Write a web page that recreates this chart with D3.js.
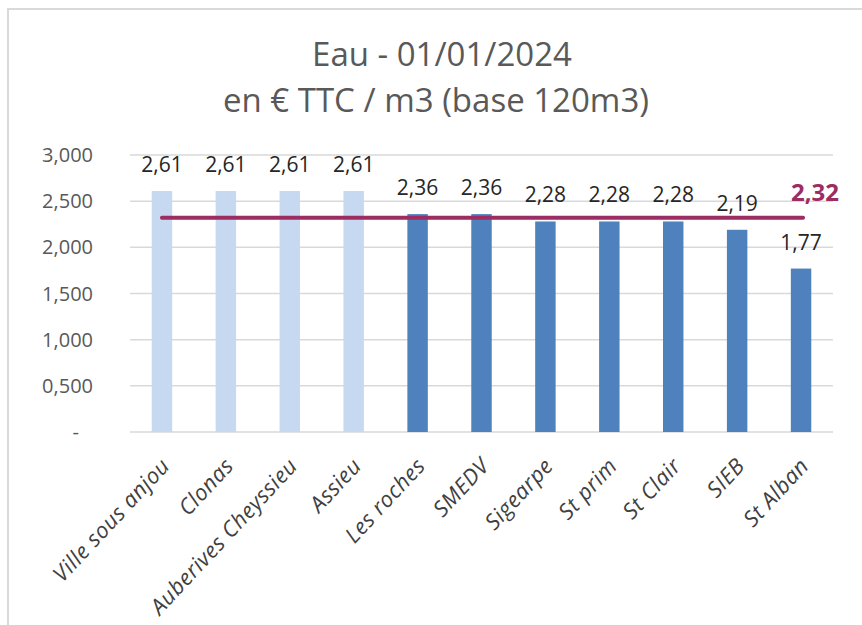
<!DOCTYPE html>
<html>
<head>
<meta charset="utf-8">
<script src="https://cdn.jsdelivr.net/npm/d3@7"></script>
<style>
  body { margin: 0; background: #fff; }
  svg { display: block; font-family: 'Open Sans', sans-serif; }
</style>
</head>
<body>
<div id="chart"></div>
<script>
const categories = ['Ville sous anjou', 'Clonas', 'Auberives Cheyssieu', 'Assieu', 'Les roches',
  'SMEDV', 'Sigearpe', 'St prim', 'St Clair', 'SIEB', 'St Alban'];
const values = [2.61, 2.61, 2.61, 2.61, 2.36, 2.36, 2.28, 2.28, 2.28, 2.19, 1.77];
const lightBars = [true, true, true, true, false, false, false, false, false, false, false];
const average = 2.32;
const yTicks = [0, 0.5, 1, 1.5, 2, 2.5, 3];

const W = 862, H = 625;
const plot = { left: 130, right: 833, top: 155, bottom: 432 };

const svg = d3.select('#chart').append('svg').attr('width', W).attr('height', H);

// chart frame
svg.append('rect')
  .attr('x', 8).attr('y', 9).attr('width', 900).attr('height', 700)
  .attr('fill', 'none').attr('stroke', '#d9d9d9').attr('stroke-width', 2);

const x = d3.scaleBand()
  .domain(categories)
  .range([plot.left, plot.right])
  .paddingInner(0.68)
  .paddingOuter(0.34);

const y = d3.scaleLinear().domain([0, 3]).range([plot.bottom, plot.top]);

const fmtTick = (v) => v === 0 ? '-' : d3.format('.3f')(v).replace('.', ',');
const fmtVal = (v) => d3.format('.2f')(v).replace('.', ',');

// gridlines
svg.append('g')
  .selectAll('line')
  .data(yTicks)
  .join('line')
  .attr('x1', plot.left).attr('x2', plot.right)
  .attr('y1', (d) => y(d)).attr('y2', (d) => y(d))
  .attr('stroke', '#d9d9d9')
  .attr('stroke-width', 1.5);

// y tick labels
svg.append('g')
  .selectAll('text')
  .data(yTicks)
  .join('text')
  .attr('x', (d) => d === 0 ? 79 : 93)
  .attr('y', (d) => y(d))
  .attr('dy', '0.35em')
  .attr('text-anchor', 'end')
  .style('font-size', '20px')
  .style('fill', '#595959')
  .text(fmtTick);

// bars
svg.append('g')
  .selectAll('rect')
  .data(categories)
  .join('rect')
  .attr('x', (d) => x(d))
  .attr('y', (d, i) => y(values[i]))
  .attr('width', x.bandwidth())
  .attr('height', (d, i) => y(0) - y(values[i]))
  .attr('fill', (d, i) => lightBars[i] ? '#c6d9f1' : '#4f81bd');

// value labels
svg.append('g')
  .selectAll('text')
  .data(categories)
  .join('text')
  .attr('x', (d) => x(d) + x.bandwidth() / 2)
  .attr('y', (d, i) => y(values[i]) - 19)
  .attr('text-anchor', 'middle')
  .style('font-size', '21px')
  .style('fill', '#262626')
  .text((d, i) => fmtVal(values[i]));

// average line
const xFirst = x(categories[0]) + x.bandwidth() / 2;
const xLast = x(categories[categories.length - 1]) + x.bandwidth() / 2;
svg.append('line')
  .attr('x1', xFirst).attr('x2', xLast + 2)
  .attr('y1', y(average)).attr('y2', y(average))
  .attr('stroke', '#9b2d62')
  .attr('stroke-width', 4)
  .attr('stroke-linecap', 'round');

svg.append('text')
  .attr('x', xLast + 14)
  .attr('y', y(average) - 17)
  .attr('text-anchor', 'middle')
  .style('font-size', '24px')
  .style('font-weight', 'bold')
  .style('fill', '#9b2d62')
  .text(fmtVal(average));

// x labels
svg.append('g')
  .selectAll('text')
  .data(categories)
  .join('text')
  .attr('transform', (d) => `translate(${x(d) + x.bandwidth() / 2 + 9},467) rotate(-47)`)
  .attr('text-anchor', 'end')
  .style('font-size', '22px')
  .style('letter-spacing', '0.5px')
  .style('font-style', 'italic')
  .style('fill', '#404040')
  .text((d) => d);

// title
const title = svg.append('text')
  .attr('text-anchor', 'middle')
  .style('font-size', '33px')
  .style('fill', '#595959');
title.append('tspan').attr('x', 442).attr('y', 66).text('Eau - 01/01/2024');
title.append('tspan').attr('x', 436).attr('y', 112).text('en € TTC / m3 (base 120m3)');
</script>
</body>
</html>
